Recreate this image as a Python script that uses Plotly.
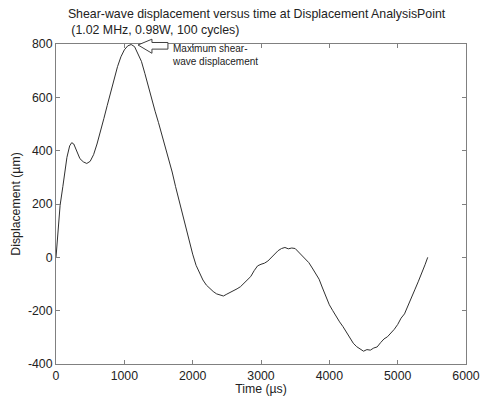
import plotly.graph_objects as go

time_us = [0, 30, 60, 100, 130, 160, 200, 230, 260, 300, 350, 400, 450, 500, 550, 600,
           650, 700, 750, 800, 850, 900, 950, 1000, 1050, 1100, 1150, 1200, 1250, 1300,
           1350, 1400, 1450, 1500, 1550, 1600, 1650, 1700, 1750, 1800, 1850, 1900, 1950,
           2000, 2050, 2100, 2150, 2200, 2250, 2300, 2350, 2400, 2450, 2500, 2550, 2600,
           2650, 2700, 2750, 2800, 2850, 2900, 2950, 3000, 3050, 3100, 3150, 3200, 3250,
           3300, 3350, 3400, 3450, 3500, 3550, 3600, 3650, 3700, 3750, 3800, 3850, 3900,
           3950, 4000, 4050, 4100, 4150, 4200, 4250, 4300, 4350, 4400, 4450, 4500, 4550,
           4600, 4650, 4700, 4750, 4800, 4850, 4900, 4950, 5000, 5050, 5100, 5150, 5200,
           5250, 5300, 5350, 5400, 5440]
displacement_um = [0, 100, 195, 265, 315, 375, 418, 430, 425, 400, 370, 358, 352, 360, 385, 425,
                   468, 520, 570, 620, 668, 715, 752, 778, 793, 798, 790, 765, 735, 690,
                   640, 592, 548, 505, 460, 415, 365, 320, 265, 215, 162, 108, 62,
                   12, -30, -60, -85, -104, -118, -128, -137, -141, -145, -138, -132, -126,
                   -118, -110, -97, -84, -72, -50, -32, -26, -22, -14, 0, 12, 25,
                   33, 37, 32, 35, 33, 20, 5, -8, -20, -40, -62, -82, -115,
                   -148, -178, -200, -222, -242, -260, -282, -305, -322, -335, -342, -352, -346,
                   -348, -340, -336, -320, -306, -298, -285, -270, -252, -228, -212, -180, -152,
                   -122, -92, -62, -28, 0]

x_ticks = [0, 1000, 2000, 3000, 4000, 5000, 6000]
x_labels = ["0", "1000", "2000", "3000", "4000", "5000", "6000"]
y_ticks = [-400, -200, 0, 200, 400, 600, 800]
y_labels = ["-400", "-200", "0", "200", "400", "600", "800"]

FONT = "Liberation Sans, Arial, Helvetica, sans-serif"
AX = "#808080"

fig = go.Figure()
fig.add_trace(go.Scatter(x=time_us, y=displacement_um, mode="lines",
                         line=dict(color="#303030", width=1), showlegend=False))

axis_common = dict(showline=True, linecolor=AX, linewidth=1, mirror="ticks",
                   ticks="inside", ticklen=4, tickcolor=AX, showgrid=False,
                   zeroline=False, tickfont=dict(size=12.3, color="#222"))

fig.update_layout(
    width=481, height=396,
    margin=dict(l=56, r=15, t=44, b=32, autoexpand=False),
    paper_bgcolor="white", plot_bgcolor="white",
    font=dict(family=FONT, size=12, color="#222"),
    title=dict(text="Shear-wave displacement versus time at Displacement AnalysisPoint<br>\u00a0(1.02 MHz, 0.98W, 100 cycles)",
               x=0.029, xref="paper", xanchor="left", y=0.955, yref="container", yanchor="top",
               font=dict(size=12.35, color="#222")),
    xaxis=dict(range=[0, 6000], tickvals=x_ticks, ticktext=x_labels,
               title=dict(text="Time (\u00b5s)", font=dict(size=12.3), standoff=2),
               **axis_common),
    yaxis=dict(range=[-400, 800], tickvals=y_ticks, ticktext=y_labels,
               title=dict(text="Displacement (\u00b5m)", font=dict(size=12.3), standoff=4),
               **axis_common),
)

# hollow block arrow pointing to maximum
tip = (0.200, 0.997)
path = (f"M {tip[0]},{tip[1]} L 0.234,1.015 L 0.234,1.0047 L 0.273,1.0047 "
        f"L 0.273,0.984 L 0.234,0.984 L 0.234,0.971 Z")
fig.add_shape(type="path", path=path, xref="paper", yref="paper",
              line=dict(color="#404040", width=1), fillcolor="white", layer="above")

fig.add_annotation(text="Maximum shear-<br>wave displacement", xref="paper", yref="paper",
                   x=0.277, y=1.01, xanchor="left", yanchor="top", align="left",
                   showarrow=False,
                   font=dict(family="Liberation Sans Narrow, Arial Narrow, Liberation Sans, sans-serif",
                             size=10, color="#222"))

fig.write_html("out.html")
